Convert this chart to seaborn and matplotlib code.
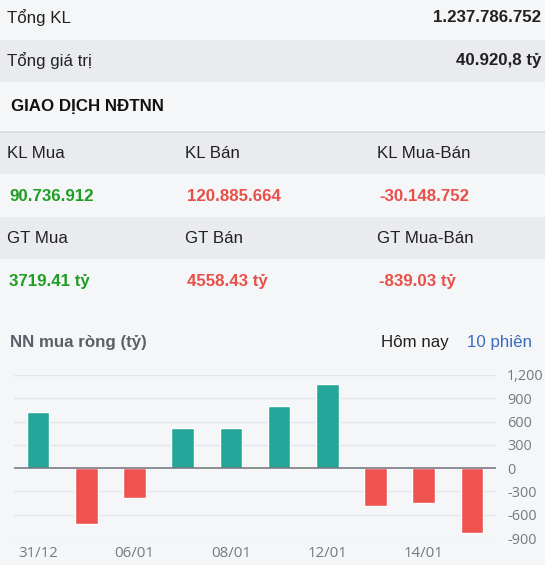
import matplotlib
matplotlib.use("Agg")
import matplotlib.pyplot as plt
from matplotlib.patches import Rectangle
import pandas as pd
import seaborn as sns

# summary rows
summary_labels = ["Tổng KL", "Tổng giá trị"]
summary_values = ["1.237.786.752", "40.920,8 tỷ"]

# foreign investor table
section_title = "GIAO DỊCH NĐTNN"
kl_labels = ["KL Mua", "KL Bán", "KL Mua-Bán"]
kl_values = ["90.736.912", "120.885.664", "-30.148.752"]
gt_labels = ["GT Mua", "GT Bán", "GT Mua-Bán"]
gt_values = ["3719.41 tỷ", "4558.43 tỷ", "-839.03 tỷ"]

# net buy chart
chart_title = "NN mua ròng (tỷ)"
tabs = ["Hôm nay", "10 phiên"]
dates = ["31/12", "05/01", "06/01", "07/01", "08/01", "11/01", "12/01", "13/01", "14/01", "15/01"]
net_buy = [720, -724, -381, 520, 515, 801, 1080, -484, -450, -839.03]
y_ticks = [-900, -600, -300, 0, 300, 600, 900, 1200]

W, H = 545, 565
BG = "#f5f6f8"
BAND = "#e9ebee"
DARK = "#222222"
GREEN = "#1f9e24"
RED = "#e8504a"
BLUE = "#3b6cc0"
GRAY = "#6e7079"


def px(x, y):
    return x / W, 1 - y / H


def band(fig, y0, y1, color):
    fig.add_artist(Rectangle((0, 1 - y1 / H), 1, (y1 - y0) / H, transform=fig.transFigure,
                             facecolor=color, edgecolor="none", zorder=0))


sns.set_theme(style="white")
plt.rcParams["font.family"] = ["Liberation Sans", "DejaVu Sans"]

fig = plt.figure(figsize=(W / 100, H / 100), dpi=100, facecolor=BG)

# background bands
band(fig, 40, 82, BAND)
band(fig, 132, 174, BAND)
band(fig, 217, 259, BAND)
fig.add_artist(plt.Line2D([0, 1], [1 - 132 / H] * 2, transform=fig.transFigure, color="#d6d9de", lw=1.2))

fs = 12.2
for (lab, val), y in zip(zip(summary_labels, summary_values), [18, 61]):
    fig.text(*px(7, y), lab, fontsize=fs, color=DARK, va="center")
    fig.text(*px(541, y), val, fontsize=fs, color=DARK, va="center", ha="right", fontweight="bold")

fig.text(*px(11, 107), section_title, fontsize=fs, color="#111111", va="center", fontweight="bold")

cols = [7, 185, 377]
val_colors = [GREEN, RED, RED]
for i in range(3):
    fig.text(*px(cols[i], 153), kl_labels[i], fontsize=fs, color=DARK, va="center")
    fig.text(*px(cols[i] + 2, 196), kl_values[i], fontsize=fs, color=val_colors[i], va="center", fontweight="bold")
    fig.text(*px(cols[i], 238), gt_labels[i], fontsize=fs, color=DARK, va="center")
    fig.text(*px(cols[i] + 2, 281), gt_values[i], fontsize=fs, color=val_colors[i], va="center", fontweight="bold")

fig.text(*px(10, 342), chart_title, fontsize=fs, color="#5b6068", va="center", fontweight="bold")
fig.text(*px(381, 342), tabs[0], fontsize=fs, color=DARK, va="center")
fig.text(*px(467, 342), tabs[1], fontsize=fs, color=BLUE, va="center")

# chart
df = pd.DataFrame({"date": dates, "value": net_buy})
df["side"] = ["buy" if v >= 0 else "sell" for v in net_buy]

ax = fig.add_axes([14 / W, (H - 538) / H, 482 / W, 163 / H])
ax.set_facecolor(BG)
sns.barplot(data=df, x="date", y="value", hue="side", palette={"buy": "#26a69a", "sell": "#ef5350"},
            dodge=False, width=0.47, legend=False, ax=ax, zorder=3, saturation=1)
ax.set_xlim(-0.5, len(dates) - 0.5)
ax.set_ylim(min(y_ticks), max(y_ticks))
for t in y_ticks:
    if t == 0:
        ax.axhline(0, color=GRAY, lw=1.1, zorder=4)
    else:
        ax.axhline(t, color="#e3e5e9", lw=1, zorder=1)
for s in ax.spines.values():
    s.set_visible(False)
ax.set_xlabel("")
ax.set_ylabel("")
ax.yaxis.tick_right()
ax.set_yticks(y_ticks)
ax.set_yticklabels([f"{t:,}" for t in y_ticks], fontfamily="Open Sans", fontsize=10.4, color="#767880")
ax.tick_params(axis="y", length=0, pad=8)
ax.set_xticks(range(len(dates)))
ax.set_xticklabels([d if i % 2 == 0 else "" for i, d in enumerate(dates)],
                   fontfamily="Open Sans", fontsize=10.8, color="#767880")
ax.tick_params(axis="x", length=0, pad=6)

fig.savefig("out.png", dpi=100, facecolor=BG)
